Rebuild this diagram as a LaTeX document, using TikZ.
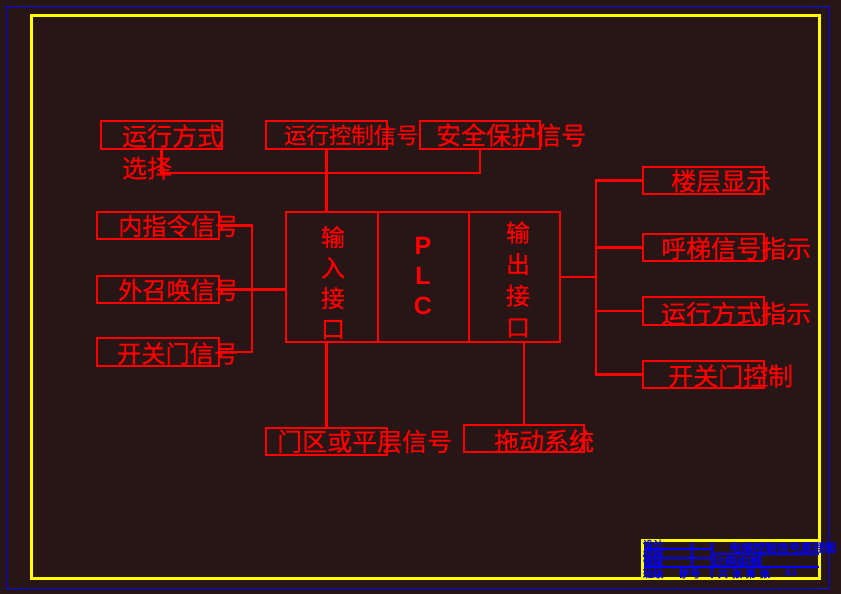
\documentclass[tikz,border=0pt]{standalone}
\usepackage{fontspec}
\usepackage{xcolor}
\usepackage{tikz}
\usetikzlibrary{positioning,calc}
\newfontfamily\cjk[FakeBold=0.6]{Noto Sans CJK SC}
\newfontfamily\cjkb[FakeBold=1.5]{Noto Sans CJK SC}
\newfontfamily\plcfont{Liberation Sans}
\newfontfamily\tbserif{Liberation Serif}
\definecolor{bg}{HTML}{281617}
\definecolor{cadRed}{HTML}{FF0000}
\definecolor{cadBlue}{HTML}{0000FF}
\definecolor{cadYellow}{HTML}{FFFF00}
\tikzset{
  sig/.style={rectangle, draw=cadRed, line width=2.4pt, minimum width=121, minimum height=27.5, inner sep=0pt},
  lbl/.style={font=\cjk\fontsize{25}{25}\selectfont, text=cadRed, inner sep=0pt, anchor=west},
  tb/.style={font=\cjkb\fontsize{10.4}{10.4}\selectfont, text=cadBlue, inner sep=0pt, anchor=west},
}

\begin{document}
\begin{tikzpicture}[x=1pt, y=-1pt,
  wire/.style={draw=cadRed, line width=2.4pt},
  port/.style={rectangle, draw=cadRed, line width=2.4pt, minimum height=130, inner sep=0pt},
  vtxt/.style={font=\cjk\fontsize{24}{30.5}\selectfont, text=cadRed, align=center, inner sep=0pt},
  thin/.style={draw=cadBlue, line width=1.4pt},
  frame/.style={draw=cadYellow, line width=3pt}]
\useasboundingbox (0,0) rectangle (841,594);
\fill[bg] (0,0) rectangle (841,594);
% drawing frames
\draw[thin] (6.5,6.5) rectangle (829.5,588.5);
\draw[frame] (31,16) rectangle (819,578);
% title block
\draw[thin] (642,549) -- (712,549); \draw[thin] (642,558) -- (712,558);
\draw[thin] (642,567) -- (819,567); \draw[thin] (712,554) -- (819,554);
\draw[thin] (692,540) -- (692,567); \draw[thin] (712,540) -- (712,578);
\draw[thin] (681,567) -- (681,578); \draw[thin] (760,554) -- (760,567);
\draw[frame] (642,578) -- (642,540) -- (819,540);
\node[tb] (tbDesign) at (642.5,544.5) {设计};
\node[tb] (tbCheck) at (642.5,554) {校核};
\node[tb] (tbAudit) at (642.5,563.5) {审核};
\node[tb] (tbClass) at (642.5,573.5) {班级};
\node[tb] (tbNo) at (679.5,573.5) {学号};
\node[tb, font=\cjkb\fontsize{11.9}{11.9}\selectfont] (tbTitle) at (729,547.5) {电梯控制信号原理图};
\node[tb, font=\cjkb\fontsize{11.8}{11.8}\selectfont] (tbScale) at (713,561.5) {比例组图};
\node[tb] (tbSheet) at (717.5,573.5) {共\hspace{3.5pt}张\hspace{3.5pt}第\hspace{3.5pt}张};
\node[tb, font=\tbserif\bfseries\fontsize{11}{11}\selectfont] (tbSize) at (783.5,573) {A1};
% PLC block
\node[port, minimum width=92] (inif) at (332,277) {};
\node[port, minimum width=91] (cpu) at (423.5,277) {};
\node[port, minimum width=91] (outif) at (514.5,277) {};
\node[vtxt] (intxt) at (333,282.5) {输\\入\\接\\口};
\node[vtxt, font=\cjk\fontsize{24}{31.5}\selectfont] (outtxt) at (518,279.5) {输\\出\\接\\口};
\node[vtxt, font=\plcfont\bfseries\fontsize{25}{30}\selectfont] (plctxt) at (423,276) {P\\L\\C};
% top inputs
\node[sig] (mode) at (161.5,135) {};
\node[sig] (ctrl) at (326.5,135) {};
\node[sig, minimum width=120] (safe) at (480,135) {};
\node[lbl, align=left, font=\cjk\fontsize{25}{32}\selectfont] (modetxt) at (122,152) {运行方式\\选择};
\node[lbl, font=\cjk\fontsize{22.4}{22.4}\selectfont] (ctrltxt) at (284,135) {运行控制信号};
\node[lbl] (safetxt) at (436,135) {安全保护信号};
% left inputs
\node[sig, minimum width=122, minimum height=27] (cmd) at (158,225.5) {};
\node[sig, minimum width=122, minimum height=27] (call) at (158,289.5) {};
\node[sig, minimum width=122] (door) at (158,352) {};
\node[lbl, font=\cjk\fontsize{24.2}{24.2}\selectfont] (cmdtxt) at (118,226) {内指令信号};
\node[lbl, font=\cjk\fontsize{24.2}{24.2}\selectfont] (calltxt) at (118,290) {外召唤信号};
\node[lbl, font=\cjk\fontsize{24.2}{24.2}\selectfont] (doortxt) at (117,353.5) {开关门信号};
% right outputs
\node[sig, minimum height=27] (floor) at (703.5,180.5) {};
\node[sig, minimum height=27] (callind) at (703.5,247.5) {};
\node[sig] (modeind) at (703.5,311) {};
\node[sig, minimum height=27] (doorctl) at (703.5,374.5) {};
\node[lbl] (floortxt) at (671,181) {楼层显示};
\node[lbl] (callindtxt) at (661,248.5) {呼梯信号指示};
\node[lbl] (modeindtxt) at (661,313.5) {运行方式指示};
\node[lbl] (doorctltxt) at (668,376) {开关门控制};
% bottom
\node[sig, minimum height=27] (zone) at (326.5,441.5) {};
\node[sig, minimum width=120, minimum height=27] (drive) at (524,438.5) {};
\node[lbl] (zonetxt) at (277,441.5) {门区或平层信号};
\node[lbl] (drivetxt) at (494,441) {拖动系统};
% wiring
\coordinate (obus) at (596,277);
\draw[wire] (mode.south) -- ++(0,23) -| (safe.south);
\draw[wire] (ctrl.south) -- (ctrl.south |- inif.north);
\draw[wire] (cmd.east) -- ++(32,0) |- (door.east);
\draw[wire] (call.east) -- (call.east -| inif.west);
\draw[wire] (outif.east) -- (obus);
\draw[wire] (floor.west) -| (obus) |- (doorctl.west);
\draw[wire] (callind.west) -- (callind.west -| obus);
\draw[wire] (modeind.west) -- (modeind.west -| obus);
\draw[wire] (zone.north) -- (zone.north |- inif.south);
\draw[wire] (drive.north) -- (drive.north |- outif.south);
\end{tikzpicture}
\end{document}
